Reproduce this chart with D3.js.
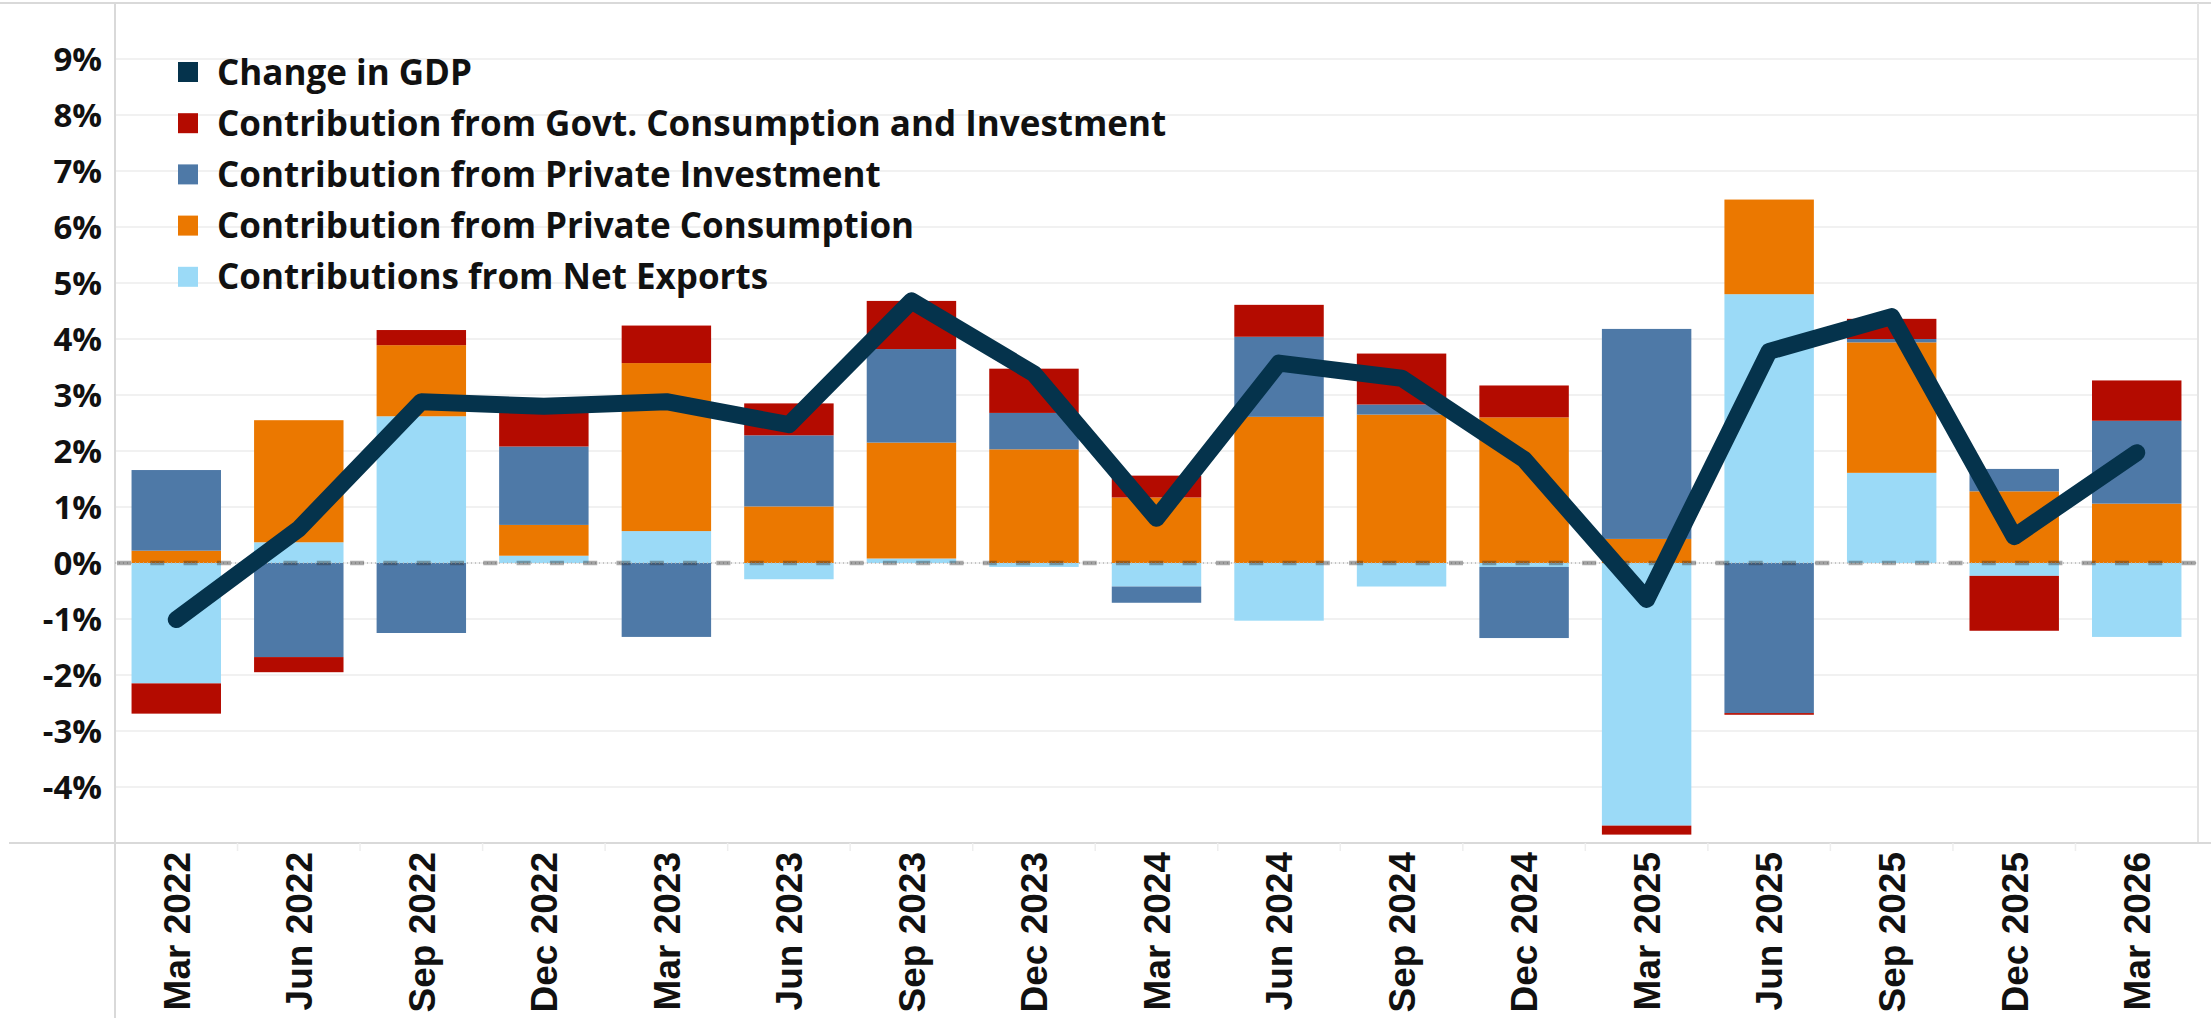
<!DOCTYPE html>
<html>
<head>
<meta charset="utf-8">
<script src="https://cdn.jsdelivr.net/npm/d3@7"></script>
<style>
  html, body { margin: 0; padding: 0; background: #fff; }
  svg { display: block; }
</style>
</head>
<body>
<div id="chart"></div>
<script>
// quarters on the x axis
var quarters = ["Mar 2022","Jun 2022","Sep 2022","Dec 2022","Mar 2023","Jun 2023","Sep 2023","Dec 2023",
  "Mar 2024","Jun 2024","Sep 2024","Dec 2024","Mar 2025","Jun 2025","Sep 2025","Dec 2025","Mar 2026"];

// contributions, percentage points
var netExports  = [-2.15, 0.37, 2.62, 0.13, 0.57, -0.29, 0.08, -0.07, -0.42, -1.03, -0.42, -0.07, -4.69, 4.80, 1.61, -0.23, -1.32];
var consumption = [0.22, 2.18, 1.27, 0.55, 3.00, 1.01, 2.07, 2.03, 1.17, 2.61, 2.65, 2.60, 0.43, 1.69, 2.33, 1.28, 1.06];
var investment  = [1.44, -1.68, -1.25, 1.40, -1.32, 1.27, 1.67, 0.65, -0.29, 1.43, 0.18, -1.27, 3.75, -2.68, 0.06, 0.40, 1.48];
var govt        = [-0.54, -0.27, 0.27, 0.70, 0.67, 0.57, 0.86, 0.79, 0.39, 0.57, 0.91, 0.57, -0.16, -0.03, 0.36, -0.98, 0.72];
var gdpChange   = [-1.01, 0.61, 2.88, 2.80, 2.88, 2.47, 4.68, 3.38, 0.80, 3.57, 3.30, 1.85, -0.65, 3.78, 4.40, 0.47, 1.97];

var yTicks = [-4, -3, -2, -1, 0, 1, 2, 3, 4, 5, 6, 7, 8, 9];

var legendLabels = ["Change in GDP", "Contribution from Govt. Consumption and Investment",
  "Contribution from Private Investment", "Contribution from Private Consumption", "Contributions from Net Exports"];

var width = 2211, height = 1018;
var plotLeft = 115, plotRight = 2198, plotTop = 3, plotBottom = 843;

var colors = {
  gdp: "#05334c",
  govt: "#b40b00",
  inv: "#4e79a7",
  cons: "#eb7800",
  nx: "#9bdaf7"
};

var rows = quarters.map(function(q, i) {
  return { q: q, nx: netExports[i], cons: consumption[i], inv: investment[i], govt: govt[i] };
});

var svg = d3.select("#chart").append("svg")
  .attr("width", width)
  .attr("height", height);

var x = d3.scaleBand()
  .domain(quarters)
  .range([plotLeft, plotRight])
  .paddingInner(0.27)
  .paddingOuter(0.135);

var y = d3.scaleLinear()
  .domain([-5, 10])
  .range([plotBottom, plotTop]);

//gridlines
svg.append("g")
  .selectAll("line")
  .data(d3.range(-4, 10))
  .enter()
  .append("line")
  .attr("x1", plotLeft)
  .attr("x2", plotRight)
  .attr("y1", function(d) { return y(d); })
  .attr("y2", function(d) { return y(d); })
  .attr("stroke", "#ececec")
  .attr("stroke-width", 1.5);

//frame lines
svg.append("line").attr("x1", 0).attr("x2", width).attr("y1", 3).attr("y2", 3)
  .attr("stroke", "#d9d9d9").attr("stroke-width", 2);
svg.append("line").attr("x1", plotLeft).attr("x2", plotLeft).attr("y1", 3).attr("y2", height)
  .attr("stroke", "#d9d9d9").attr("stroke-width", 2);
svg.append("line").attr("x1", plotRight).attr("x2", plotRight).attr("y1", 3).attr("y2", plotBottom)
  .attr("stroke", "#e3e3e3").attr("stroke-width", 2);
svg.append("line").attr("x1", 9).attr("x2", width).attr("y1", plotBottom).attr("y2", plotBottom)
  .attr("stroke", "#d9d9d9").attr("stroke-width", 2);

//column dividers under the axis
svg.append("g")
  .selectAll("line")
  .data(quarters.slice(1))
  .enter()
  .append("line")
  .attr("x1", function(d) { return x(d) - x.step() * x.paddingInner() / 2; })
  .attr("x2", function(d) { return x(d) - x.step() * x.paddingInner() / 2; })
  .attr("y1", plotBottom)
  .attr("y2", plotBottom + 8)
  .attr("stroke", "#eeeeee")
  .attr("stroke-width", 1.5);

//stacked bars
var keys = ["nx", "cons", "inv", "govt"];
var series = d3.stack()
  .keys(keys)
  .offset(d3.stackOffsetDiverging)(rows);

svg.append("g")
  .selectAll("g")
  .data(series)
  .enter()
  .append("g")
  .attr("fill", function(s) { return colors[s.key]; })
  .selectAll("rect")
  .data(function(s) { return s; })
  .enter()
  .append("rect")
  .attr("x", function(d) { return x(d.data.q); })
  .attr("width", x.bandwidth())
  .attr("y", function(d) { return y(Math.max(d[0], d[1])); })
  .attr("height", function(d) { return Math.abs(y(d[0]) - y(d[1])); });

//zero line
svg.append("line")
  .attr("x1", plotLeft).attr("x2", plotRight)
  .attr("y1", y(0)).attr("y2", y(0))
  .attr("stroke", "#b5b5b5")
  .attr("stroke-width", 1.5)
  .attr("stroke-dasharray", "1,3");
svg.append("line")
  .attr("x1", plotLeft + 2).attr("x2", plotRight)
  .attr("y1", y(0)).attr("y2", y(0))
  .attr("stroke", "rgba(45,45,45,0.4)")
  .attr("stroke-width", 4.5)
  .attr("stroke-dasharray", "14,19.3");

//gdp line
var line = d3.line()
  .x(function(d, i) { return x(quarters[i]) + x.bandwidth() / 2; })
  .y(function(d) { return y(d); });

svg.append("path")
  .datum(gdpChange)
  .attr("d", line)
  .attr("fill", "none")
  .attr("stroke", colors.gdp)
  .attr("stroke-width", 17)
  .attr("stroke-linejoin", "round")
  .attr("stroke-linecap", "round");

//y axis labels
svg.append("g")
  .selectAll("text")
  .data(yTicks)
  .enter()
  .append("text")
  .attr("x", 102)
  .attr("y", function(d) { return y(d); })
  .attr("dy", "0.36em")
  .attr("text-anchor", "end")
  .attr("font-family", "'Open Sans', sans-serif")
  .attr("font-weight", 700)
  .attr("font-size", "33px")
  .attr("fill", "#111")
  .text(function(d) { return d + "%"; });

//x axis labels
svg.append("g")
  .selectAll("text")
  .data(quarters)
  .enter()
  .append("text")
  .attr("transform", function(d) {
    return "translate(" + (x(d) + x.bandwidth() / 2) + "," + 852 + ") rotate(-90)";
  })
  .attr("dy", "0.36em")
  .attr("text-anchor", "end")
  .attr("font-family", "'Liberation Sans', Arial, sans-serif")
  .attr("font-weight", 700)
  .attr("font-size", "37px")
  .attr("fill", "#111")
  .text(function(d) { return d; });

//legend
var legendColors = [colors.gdp, colors.govt, colors.inv, colors.cons, colors.nx];
var legend = svg.append("g")
  .selectAll("g")
  .data(legendLabels)
  .enter()
  .append("g")
  .attr("transform", function(d, i) { return "translate(178," + (72 + i * 51.2) + ")"; });

legend.append("rect")
  .attr("x", 0)
  .attr("y", -10)
  .attr("width", 20)
  .attr("height", 20)
  .attr("fill", function(d, i) { return legendColors[i]; });

legend.append("text")
  .attr("x", 39)
  .attr("dy", "0.36em")
  .attr("font-family", "'Open Sans', sans-serif")
  .attr("font-weight", 700)
  .attr("font-size", "35px")
  .attr("fill", "#111")
  .text(function(d) { return d; });
</script>
</body>
</html>
